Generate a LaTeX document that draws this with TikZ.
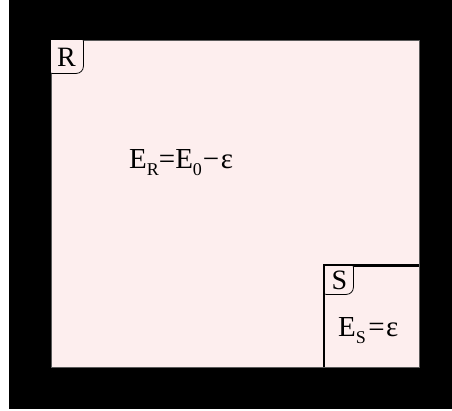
\documentclass[tikz,border=0pt]{standalone}
\usepackage{fontspec}
\setmainfont{Liberation Serif}
\definecolor{pinkbg}{RGB}{253,238,238}
\definecolor{edgegrey}{RGB}{90,90,90}
\tikzset{
  labelbox/.style={draw=black, line width=0.8pt, rounded corners=7pt, fill=pinkbg,
    inner sep=0pt, anchor=north west},
  labeltext/.style={font=\fontsize{28}{28}\selectfont, inner sep=0pt},
  eqtext/.style={font=\fontsize{29}{29}\selectfont, inner sep=0pt},
  wall/.style={line width=2.2pt, black}
}
\newcommand{\subtxt}[1]{\raisebox{-0.26em}{\fontsize{18}{18}\selectfont #1}}
\begin{document}
\begin{tikzpicture}[x=1pt,y=-1pt]
\useasboundingbox (0,0) rectangle (452,410);
\fill[white] (0,0) rectangle (452,410);
\fill[black] (9,0) rectangle (452,409);
\fill[pinkbg, draw=edgegrey, line width=0.6pt] (51,40.5) rectangle (419,367);
% R label (clipped to the region)
\begin{scope}
\clip (51,40.5) rectangle (419,367);
\node[labelbox, minimum width=38pt, minimum height=39pt] (R) at (45,34) {};
\end{scope}
\node[labeltext] (Rt) at (66.5,57.5) {R};
\node[eqtext, anchor=base west] (ER) at (129,168) {E\subtxt{R}=E\subtxt{0}\kern0.03em−\kern0.06em ε};
% S subsystem
\coordinate (S1) at (324,367);
\coordinate (S2) at (324,265.5);
\coordinate (S3) at (419,265.5);
\draw[wall] (S1) -- (S2) -- (S3);
\begin{scope}
\clip (325.1,266.6) rectangle (419,367);
\node[labelbox, minimum width=34pt, minimum height=34pt] (S) at (319,260) {};
\end{scope}
\node[labeltext] (St) at (339.5,280.5) {S};
\node[eqtext, anchor=base west] (ES) at (338,336) {E\subtxt{S}\kern0.08em=\kern0.05em ε};
\end{tikzpicture}
\end{document}
